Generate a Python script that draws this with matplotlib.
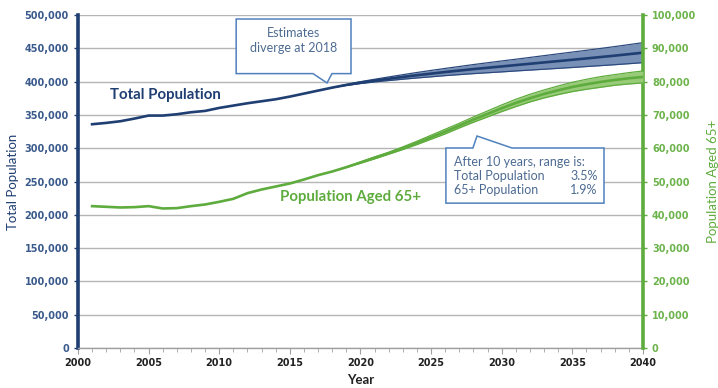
import matplotlib.pyplot as plt
from matplotlib.patches import Polygon
from matplotlib.ticker import FuncFormatter, MultipleLocator

# Historical / projected series (thousands)
years = list(range(2001, 2041))
total_pop = [336, 338, 340.5, 344.5, 349, 349, 351, 354, 356, 360.5, 364, 367.5, 370.5,
             373.5, 377.5, 382, 386.5, 391, 395, 398.5, 401.5, 404.3, 407, 409.6, 412,
             414.4, 416.6, 418.8, 420.8, 422.8, 424.8, 426.8, 428.8, 430.8, 432.8,
             434.8, 436.9, 439, 441.2, 443.5]
aged65 = [42.6, 42.4, 42.2, 42.3, 42.6, 41.9, 42.0, 42.6, 43.1, 43.9, 44.8, 46.5, 47.6,
          48.5, 49.4, 50.6, 51.9, 53.0, 54.3, 55.7, 57.1, 58.5, 60.0, 61.6, 63.3, 65.0,
          66.8, 68.6, 70.3, 72.0, 73.6, 75.0, 76.3, 77.4, 78.4, 79.2, 79.9, 80.5, 81.0,
          81.4]

# Estimate ranges after the 2018 divergence
range_years = list(range(2018, 2041))
total_hi = [391, 395.7, 399.9, 403.5, 407.0, 410.4, 413.7, 416.8, 419.8, 422.7, 425.6,
            428.3, 431.0, 433.6, 436.3, 439.0, 441.7, 444.4, 447.0, 449.8, 452.6, 455.5,
            458.5]
total_lo = [391, 394.3, 397.1, 399.5, 401.6, 403.6, 405.5, 407.2, 409.0, 410.5, 412.0,
            413.3, 414.6, 416.0, 417.3, 418.6, 419.9, 421.2, 422.6, 424.0, 425.4, 426.9,
            428.5]
aged_hi = [53.0, 54.4, 55.9, 57.4, 58.8, 60.4, 62.1, 63.9, 65.7, 67.5, 69.4, 71.2, 73.0,
           74.7, 76.2, 77.5, 78.7, 79.8, 80.7, 81.5, 82.1, 82.7, 83.2]
aged_lo = [53.0, 54.2, 55.5, 56.8, 58.2, 59.6, 61.1, 62.7, 64.3, 66.1, 67.8, 69.4, 71.0,
           72.5, 73.9, 75.1, 76.1, 77.0, 77.7, 78.3, 78.9, 79.3, 79.6]

navy = '#1f3e72'
green = '#5fac3e'
box_edge = '#4f81bd'
box_text = '#4d6b92'
label_font = 'Lato'

k = 1000
fig = plt.figure(figsize=(7.18, 3.88), dpi=100)
ax = fig.add_axes([0.1086, 0.1031, 0.7869, 0.8582])
ax2 = ax.twinx()

# total population fan + line
ax.fill_between(range_years, [v * k for v in total_lo], [v * k for v in total_hi],
                color='#7a91b7', lw=0, zorder=3)
ax.plot(range_years, [v * k for v in total_hi], color='#2c4a7e', lw=0.9, zorder=4)
ax.plot(range_years, [v * k for v in total_lo], color='#2c4a7e', lw=0.9, zorder=4)
ax.plot(years, [v * k for v in total_pop], color=navy, lw=1.9, zorder=5)

# 65+ fan + line
ax2.fill_between(range_years, [v * k for v in aged_lo], [v * k for v in aged_hi],
                 color='#97cb78', lw=0, zorder=3)
ax2.plot(range_years, [v * k for v in aged_hi], color=green, lw=0.9, zorder=4)
ax2.plot(range_years, [v * k for v in aged_lo], color=green, lw=0.9, zorder=4)
ax2.plot(years, [v * k for v in aged65], color=green, lw=1.9, zorder=5)

ax.set_xlim(2000, 2040)
ax.set_ylim(0, 500000)
ax2.set_ylim(0, 100000)

fmt = FuncFormatter(lambda v, p: f'{int(v):,}')
ax.yaxis.set_major_locator(MultipleLocator(50000))
ax.yaxis.set_major_formatter(fmt)
ax2.yaxis.set_major_locator(MultipleLocator(10000))
ax2.yaxis.set_major_formatter(fmt)
ax.xaxis.set_major_locator(MultipleLocator(5))
ax.xaxis.set_minor_locator(MultipleLocator(1))

ax.yaxis.grid(True, color='#b5b5b5', lw=1)
ax.set_axisbelow(True)

for s in ['top', 'right']:
    ax.spines[s].set_visible(False)
for s in ['top', 'left', 'bottom']:
    ax2.spines[s].set_visible(False)
ax.spines['left'].set_color(navy)
ax.spines['left'].set_linewidth(2.6)
ax.spines['bottom'].set_color('#a0a0a0')
ax.spines['bottom'].set_linewidth(1)
ax2.spines['right'].set_color(green)
ax2.spines['right'].set_linewidth(2.6)

ax.tick_params(axis='y', colors=navy, labelsize=7, length=3, width=1)
ax.tick_params(axis='y', labelcolor='#3a5a8c')
ax.tick_params(axis='x', which='major', labelsize=7, length=4, color='#a0a0a0',
               labelcolor='#222222')
ax.tick_params(axis='x', which='minor', length=3, color='#a0a0a0')
ax2.tick_params(axis='y', colors=green, labelsize=7, length=3, width=1)
ax2.tick_params(axis='y', labelcolor='#6db34c')
for lab in ax.get_yticklabels() + ax2.get_yticklabels():
    lab.set_fontweight('bold')
for lab in ax.get_xticklabels():
    lab.set_fontweight('bold')

ax.set_xlabel('Year', fontsize=9.5, fontweight='bold', family=label_font, labelpad=4,
              color='#222222')
ax.set_ylabel('Total Population', fontsize=9.5, color=navy, family=label_font, labelpad=4)
ax2.set_ylabel('Population Aged 65+', fontsize=9.5, color=green, family=label_font,
               labelpad=8)

ax.text(2002.3, 380000, 'Total Population', color=navy, fontsize=10.8,
        fontweight='bold', family=label_font, va='center')
ax2.text(2014.3, 45300, 'Population Aged 65+', color=green, fontsize=10.8,
         fontweight='bold', family=label_font, va='center')

# callout: divergence year
c1 = [(2011.2, 494000), (2019.33, 494000), (2019.33, 412000), (2017.98, 412000),
      (2017.63, 398000), (2016.64, 412000), (2011.2, 412000)]
ax2.add_patch(Polygon(c1, closed=True, facecolor='white', edgecolor=box_edge, lw=1.1,
                      transform=ax.transData, zorder=6))
ax2.text(2015.27, 462000, 'Estimates\ndiverge at 2018', transform=ax.transData,
         ha='center', va='center', fontsize=9, color=box_text, family=label_font,
         linespacing=1.25, zorder=7)

# callout: range after 10 years
c2 = [(2026.05, 60060), (2027.96, 60060), (2028.25, 63660), (2030.73, 60060),
      (2037.24, 60060), (2037.24, 43500), (2026.05, 43500)]
ax2.add_patch(Polygon(c2, closed=True, facecolor='white', edgecolor=box_edge, lw=1.1,
                      zorder=6))
rows = [('After 10 years, range is:', ''), ('Total Population', '3.5%'),
        ('65+ Population', '1.9%')]
for i, (name, pct) in enumerate(rows):
    y = 55900 - i * 4200
    ax2.text(2026.6, y, name, fontsize=9, color=box_text, family=label_font,
             va='center', zorder=7)
    if pct:
        ax2.text(2036.8, y, pct, fontsize=9, color=box_text, family=label_font,
                 va='center', ha='right', zorder=7)

fig.savefig('out.png', dpi=100)
